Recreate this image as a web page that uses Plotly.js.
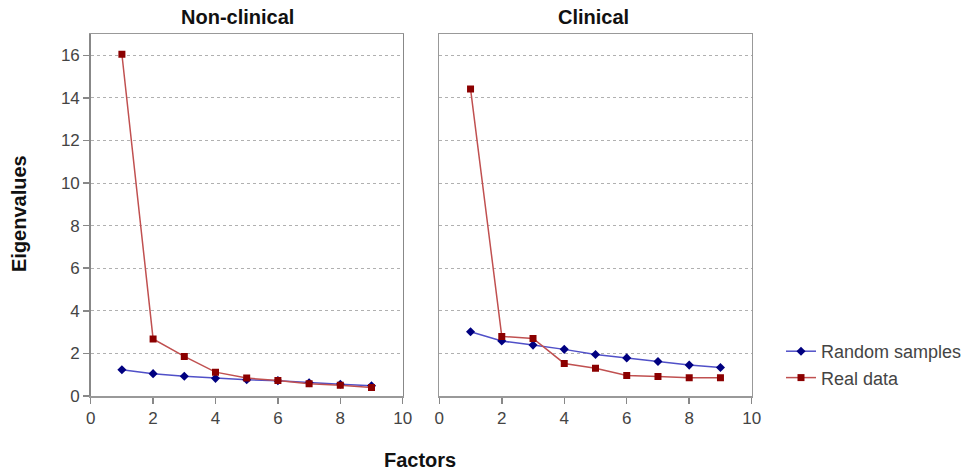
<!DOCTYPE html>
<html><head><meta charset="utf-8">
<script src="https://cdn.plot.ly/plotly-3.0.1.min.js"></script>
<style>body{margin:0;background:#fff}#c{width:971px;height:472px}</style>
</head><body><div id="c"></div>
<script>
const factors = [1,2,3,4,5,6,7,8,9];
const nonClinicalRandom = [1.23,1.05,0.93,0.83,0.76,0.72,0.62,0.55,0.48];
const nonClinicalReal   = [16.05,2.68,1.86,1.12,0.84,0.73,0.57,0.51,0.40];
const clinicalRandom = [3.02,2.58,2.39,2.19,1.95,1.79,1.62,1.45,1.34];
const clinicalReal   = [14.42,2.80,2.70,1.53,1.30,0.96,0.92,0.86,0.86];
const panelTitles = ["Non-clinical","Clinical"];
const seriesNames = ["Random samples","Real data"];

const F = "Arial, 'Liberation Sans', sans-serif";
const blueLine = "#5050c8", blueMark = "#000080";
const redLine = "#c05050", redMark = "#8b0000";

function rnd(x, y, xa, ya, show){
  return {x:x, y:y, xaxis:xa, yaxis:ya, type:"scatter", mode:"lines+markers", name:seriesNames[0],
    legendgroup:"a", showlegend:show,
    line:{color:blueLine, width:1.5}, marker:{symbol:"diamond", size:7, color:blueMark}};
}
function real(x, y, xa, ya, show){
  return {x:x, y:y, xaxis:xa, yaxis:ya, type:"scatter", mode:"lines+markers", name:seriesNames[1],
    legendgroup:"b", showlegend:show,
    line:{color:redLine, width:1.5}, marker:{symbol:"square", size:7, color:redMark}};
}
const data = [
  rnd(factors, nonClinicalRandom, "x", "y", true),
  real(factors, nonClinicalReal, "x", "y", true),
  rnd(factors, clinicalRandom, "x2", "y2", false),
  real(factors, clinicalReal, "x2", "y2", false)
];

const yTop = 1-34/472, yBot = 1-396/472;
const tf = {family:F, size:17, color:"#444"};
const xCommon = {range:[0,10], dtick:2, tick0:0, showgrid:false, zeroline:false,
  showline:true, linecolor:"#999", linewidth:1.5, mirror:true,
  ticks:"outside", ticklen:6, tickcolor:"#888", tickwidth:1.5,
  tickfont:tf, fixedrange:true};
const yCommon = {range:[0,17], dtick:2, tick0:0, showgrid:true, gridcolor:"#b0b0b0", griddash:"dot", gridwidth:1,
  zeroline:false, showline:true, linecolor:"#999", linewidth:1.5, mirror:true,
  tickfont:tf, fixedrange:true, domain:[yBot, yTop]};

const layout = {
  width:971, height:472, margin:{l:0,r:0,t:0,b:0},
  paper_bgcolor:"#fff", plot_bgcolor:"#fff",
  font:{family:F, color:"#000"},
  xaxis: Object.assign({}, xCommon, {domain:[90.7/971, 402.7/971], anchor:"y"}),
  yaxis: Object.assign({}, yCommon, {anchor:"x", ticks:"outside", ticklen:6, tickcolor:"#888", tickwidth:1.5, linecolor:"#888"}),
  xaxis2: Object.assign({}, xCommon, {domain:[439.3/971, 751.7/971], anchor:"y2"}),
  yaxis2: Object.assign({}, yCommon, {anchor:"x2", showticklabels:false, ticks:""}),
  showlegend:true,
  legend:{x:781/971, y:1-333/472, xanchor:"left", yanchor:"top", font:{family:F, size:18, color:"#444"},
    bgcolor:"rgba(0,0,0,0)", tracegroupgap:0, traceorder:"grouped", itemwidth:30},
  annotations:[
    {text:"<b>"+panelTitles[0]+"</b>", xref:"paper", yref:"paper", x:237/971, y:1-17/472, xanchor:"center", yanchor:"middle", showarrow:false, font:{family:F, size:20, color:"#111"}},
    {text:"<b>"+panelTitles[1]+"</b>", xref:"paper", yref:"paper", x:593/971, y:1-17/472, xanchor:"center", yanchor:"middle", showarrow:false, font:{family:F, size:20, color:"#111"}},
    {text:"<b>Eigenvalues</b>", xref:"paper", yref:"paper", x:19/971, y:1-214/472, xanchor:"center", yanchor:"middle", showarrow:false, textangle:-90, font:{family:F, size:20, color:"#111"}},
    {text:"<b>Factors</b>", xref:"paper", yref:"paper", x:420/971, y:1-460/472, xanchor:"center", yanchor:"middle", showarrow:false, font:{family:F, size:20, color:"#111"}}
  ]
};
Plotly.newPlot("c", data, layout, {displayModeBar:false, staticPlot:true});
</script></body></html>
